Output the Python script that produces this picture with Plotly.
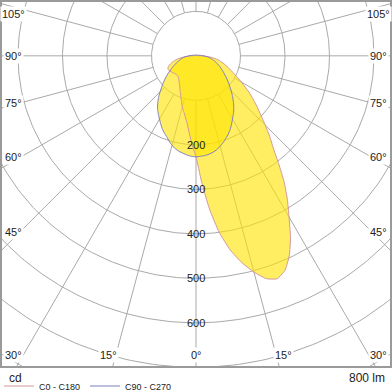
import numpy as np
import plotly.graph_objects as go

# ---- data (cd) ----
gamma = [0, 2.5, 5, 7.5, 10, 12.5, 15, 17.5, 20, 22.5, 25, 27.5, 30, 32.5, 35, 37.5, 40, 42.5, 45,
         50, 55, 60, 65, 70, 75, 80, 85, 90, 95, 100, 110, 120, 135, 150, 165, 180]
c0 = [227, 282, 345, 400, 443, 476, 503, 525, 533, 522, 496, 460, 418, 382, 345, 305, 270, 245, 220,
      180, 148, 118, 94, 77, 63, 50, 33, 12, 5, 3, 2, 2, 2, 2, 2, 2]
c180 = [227, 200, 174, 153, 139, 128, 119, 108, 99, 91, 85, 79, 74, 70, 67, 64, 62, 61, 61,
        62, 65, 68, 70, 65, 55, 43, 28, 12, 5, 3, 2, 2, 2, 2, 2, 2]
c90 = [227, 226, 225, 223, 220, 216, 210, 204, 197, 190, 182, 173, 164, 156, 148, 139, 130, 121, 112,
       96, 82, 70, 60, 51, 42, 34, 26, 18, 12, 8, 4, 3, 2, 2, 2, 2]
c270 = [227, 226, 224, 221, 218, 214, 208, 201, 193, 187, 180, 172, 164, 157, 150, 142, 133, 124, 114,
        97, 82, 68, 57, 47, 39, 32, 24, 16, 11, 7, 4, 3, 2, 2, 2, 2]

ring_values = [100, 200, 300, 400, 500, 600, 700, 800]
ring_labels = ["200", "300", "400", "500", "600"]
spoke_angles = list(range(0, 181, 15))
angle_label_values = [0, 15, 30, 45, 60, 75, 90, 105]
flux_text = "800 lm"
unit_text = "cd"
names = ["C0 - C180", "C90 - C270"]

X_RANGE = [-436, 436]
Y_RANGE = [-697, 121]

FONT = "Arial, Liberation Sans, sans-serif"
GRID = "#a9a9a9"
FILL = "rgba(255,228,0,0.62)"
COL_A = "#d497a0"
COL_B = "#7f7fc2"


def loop(right, left):
    g = np.radians(np.array(gamma, dtype=float))
    r1 = np.array(right, dtype=float)
    r2 = np.array(left, dtype=float)
    xr = r1 * np.sin(g)
    yr = -r1 * np.cos(g)
    xl = -r2 * np.sin(g)
    yl = -r2 * np.cos(g)
    x = np.concatenate([xr[::-1], xl[1:]])
    y = np.concatenate([yr[::-1], yl[1:]])
    return x, y


fig = go.Figure()

# grid rings
t = np.linspace(0, 2 * np.pi, 361)
for rv in ring_values:
    fig.add_trace(go.Scatter(x=rv * np.cos(t), y=rv * np.sin(t), mode="lines",
                             line=dict(color=GRID, width=1), hoverinfo="skip", showlegend=False))
# spokes
for a in spoke_angles:
    for s in (-1, 1):
        if a in (0, 180) and s == -1:
            continue
        ar = np.radians(a)
        fig.add_trace(go.Scatter(x=[s * 100 * np.sin(ar), s * 1200 * np.sin(ar)],
                                 y=[-100 * np.cos(ar), -1200 * np.cos(ar)], mode="lines",
                                 line=dict(color=GRID, width=1), hoverinfo="skip", showlegend=False))

xa, ya = loop(c0, c180)
xb, yb = loop(c90, c270)
for xx, yy in ((xa, ya), (xb, yb)):
    fig.add_trace(go.Scatter(x=xx, y=yy, mode="lines", fill="toself", fillcolor=FILL,
                             line=dict(width=0, shape="spline", smoothing=0.5),
                             hoverinfo="skip", showlegend=False))
for xx, yy, col, nm in ((xa, ya, COL_A, names[0]), (xb, yb, COL_B, names[1])):
    fig.add_trace(go.Scatter(x=xx, y=yy, mode="lines", name=nm,
                             line=dict(color=col, width=1, shape="spline", smoothing=0.5)))

ann = []
for lab in ring_labels:
    v = float(lab)
    ann.append(dict(x=0, y=-v, text=lab, showarrow=False, xanchor="center", yanchor="middle",
                    font=dict(size=11, color="#222", family=FONT)))

XL = 411
XR = 395
YB = -672
for a in angle_label_values:
    ar = np.radians(a)
    for s in ((1,) if a == 0 else (-1, 1)):
        sa, ca = np.sin(ar), np.cos(ar)
        t_side = X_RANGE[1] / sa if sa > 1e-9 else 1e9
        t_bot = -Y_RANGE[0] / ca if ca > 1e-9 else 1e9
        if t_side < t_bot:
            x = s * XL
            y = min(-XR * ca / sa, 94)
        else:
            y = YB
            x = s * min(-Y_RANGE[0] * np.tan(ar) * 1.05, XL)
        ann.append(dict(x=x, y=y, text=f"{a}°", showarrow=False, xanchor="center", yanchor="middle",
                        bgcolor="white", borderpad=1,
                        font=dict(size=11, color="#222", family=FONT)))

ann.append(dict(xref="paper", yref="paper", x=5 / 388, y=-12 / 364, text=unit_text, showarrow=False,
                xanchor="left", yanchor="middle", font=dict(size=12, color="#222", family=FONT)))
ann.append(dict(xref="paper", yref="paper", x=385 / 388, y=-12 / 364, text=flux_text, showarrow=False,
                xanchor="right", yanchor="middle", font=dict(size=12, color="#222", family=FONT)))

fig.update_layout(
    width=392, height=392,
    margin=dict(l=2, r=2, t=2, b=26, autoexpand=False),
    paper_bgcolor="white", plot_bgcolor="white",
    xaxis=dict(range=X_RANGE, showgrid=False, zeroline=False, showticklabels=False, ticks="",
               showline=True, mirror=True, linecolor="#9a9a9a", linewidth=1.5, fixedrange=True),
    yaxis=dict(range=Y_RANGE, showgrid=False, zeroline=False, showticklabels=False, ticks="",
               showline=True, mirror=True, linecolor="#9a9a9a", linewidth=1.5, fixedrange=True),
    showlegend=True,
    legend=dict(orientation="h", x=-3 / 388, xanchor="left", y=-20 / 364, yanchor="middle",
                font=dict(size=9, color="#222", family=FONT), itemwidth=30,
                bgcolor="rgba(0,0,0,0)", borderwidth=0, tracegroupgap=0),
    annotations=ann,
)

fig.write_html("out.html", config={"displayModeBar": False},
               post_script="document.body.style.margin='0';document.body.style.overflow='hidden';")
